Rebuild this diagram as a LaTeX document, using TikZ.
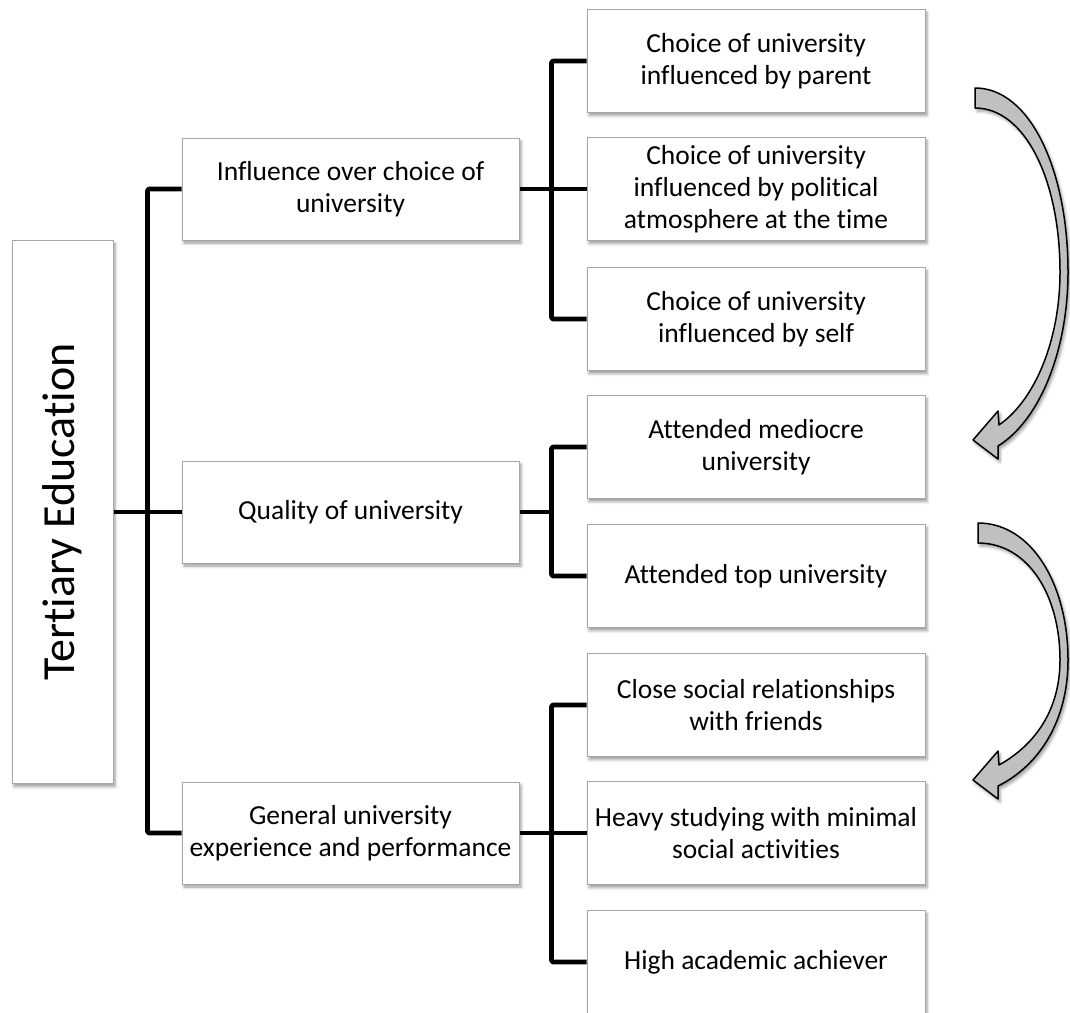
\documentclass[tikz,border=0pt]{standalone}
\usepackage{fontspec}
\setmainfont{Carlito}[Ligatures=NoCommon]
\usetikzlibrary{shadows.blur}
\definecolor{boxline}{HTML}{A6A6A6}
\definecolor{arrowfill}{HTML}{C0C0C0}
\begin{document}
\begin{tikzpicture}[x=1pt,y=-1pt,
  soft/.style={blur shadow={shadow xshift=2pt,shadow yshift=-3pt,shadow blur radius=3pt,shadow opacity=40}},
  box/.style={draw=boxline,line width=1pt,fill=white,soft,align=center,inner sep=0pt,
    font=\fontsize{27.5}{32}\selectfont},
  leaf/.style={box,minimum width=338pt,minimum height=103pt},
  branch/.style={box,minimum width=337pt,minimum height=102pt},
  rootbox/.style={box,minimum width=101pt,minimum height=543pt,font=\fontsize{46}{54}\selectfont},
  link/.style={line width=4.8pt,line join=round,rounded corners=2pt},
  curvearrow/.style={fill=arrowfill,draw=black,line width=1.5pt,line join=round,soft}]
\useasboundingbox (0,0) rectangle (1070,1012);

% root
\node[rootbox] (root) at (62.5,512) {\rotatebox{90}{Tertiary Education}};

% second level
\node[branch] (infl) at (350.5,189) {Influence over choice of\\university};
\node[branch] (qual) at (350.5,512) {Quality of university};
\node[branch] (gen)  at (350.5,833) {General university\\experience and performance};

% third level
\node[leaf] (par)  at (756,61)  {Choice of university\\influenced by parent};
\node[leaf] (pol)  at (756,189) {Choice of university\\influenced by political\\atmosphere at the time};
\node[leaf] (self) at (756,319) {Choice of university\\influenced by self};
\node[leaf] (med)  at (756,447) {Attended mediocre\\university};
\node[leaf] (top)  at (756,576) {Attended top university};
\node[leaf] (soc)  at (756,705) {Close social relationships\\with friends};
\node[leaf] (stud) at (756,833) {Heavy studying with minimal\\social activities};
\node[leaf] (high) at (756,962) {High academic achiever};

% tree connectors
\draw[link] (root.east) -- (qual.west);
\draw[link] (infl.west) -- ++(-34,0) |- (gen.west);
\draw[link] (infl.east) -- (pol.west);
\draw[link] (par.west) -- ++(-35,0) |- (self.west);
\draw[link] (qual.east) -- ++(33,0);
\draw[link] (med.west) -- ++(-35,0) |- (top.west);
\draw[link] (gen.east) -- (stud.west);
\draw[link] (soc.west) -- ++(-35,0) |- (high.west);

% curved block arrows
\path[curvearrow] (975,88) .. controls (1030,88) and (1068,170) .. (1068,272)
  .. controls (1068,350) and (1040,420) .. (998,446) -- (998,459) -- (973,440)
  -- (998,411) -- (999,425) .. controls (1035,400) and (1060,340) .. (1060,272)
  .. controls (1060,180) and (1025,108) .. (975,108) -- cycle;
\path[curvearrow] (978,523) .. controls (1032,523) and (1068,585) .. (1068,660)
  .. controls (1068,720) and (1040,765) .. (998,786) -- (998,799) -- (973,780)
  -- (998,751) -- (999,765) .. controls (1035,745) and (1060,710) .. (1060,660)
  .. controls (1060,595) and (1028,543) .. (978,543) -- cycle;
\end{tikzpicture}
\end{document}
